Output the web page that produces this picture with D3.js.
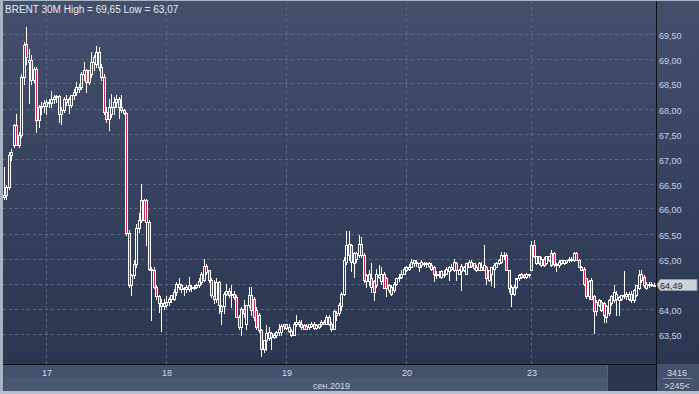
<!DOCTYPE html>
<html>
<head>
<meta charset="utf-8">
<script src="https://cdn.jsdelivr.net/npm/d3@7"></script>
<style>
  html, body { margin: 0; padding: 0; background: #2c3752; }
  svg { display: block; font-family: "Liberation Sans", Arial, sans-serif; }
</style>
</head>
<body>
<div id="chart"></div>
<script>
// 30M candles [open, high, low, close], one array per trading day
const day16 = [
  [66.25, 66.85, 66.2, 66.3], [66.3, 66.5, 66.22, 66.45], [66.45, 67.15, 66.4, 67.1], [67.1, 67.2, 66.98, 67.15],
  [67.3, 67.7, 67.25, 67.68], [67.68, 67.9, 67.28, 67.3], [67.3, 67.55, 67.25, 67.48], [67.48, 68.7, 67.45, 68.65],
  [68.65, 69.35, 68.5, 69.3], [69.32, 69.65, 68.9, 69.05], [68.95, 69.2, 68.12, 69.0], [69.0, 69.1, 68.5, 68.6],
  [68.6, 68.85, 68.55, 68.82], [68.82, 68.85, 67.55, 67.8], [67.8, 68.1, 67.66, 68.05], [68.05, 68.15, 67.9, 68.08],
  [68.08, 68.18, 67.95, 68.12]
];
const day17 = [
  [68.08, 68.18, 67.9, 68.15], [68.15, 68.2, 68.05, 68.12], [68.12, 68.37, 68.05, 68.2], [68.2, 68.3, 68.12, 68.25],
  [68.25, 68.3, 68.15, 68.27], [68.27, 68.3, 67.75, 67.9], [67.9, 68.05, 67.7, 67.98], [67.98, 68.25, 67.95, 68.22],
  [68.22, 68.3, 68.1, 68.16], [68.2, 68.25, 67.92, 68.1], [68.1, 68.3, 68.05, 68.28], [68.28, 68.4, 68.2, 68.35],
  [68.35, 68.55, 68.3, 68.45], [68.45, 68.5, 68.35, 68.4], [68.45, 68.75, 68.4, 68.72], [68.72, 68.95, 68.6, 68.8],
  [68.8, 68.82, 68.35, 68.55], [68.55, 68.8, 68.5, 68.78], [68.7, 69.15, 68.65, 68.95], [68.95, 69.1, 68.8, 69.05],
  [68.9, 69.26, 68.85, 69.15], [69.15, 69.25, 68.8, 68.85], [68.85, 68.9, 68.6, 68.65], [68.65, 68.7, 67.9, 67.95],
  [67.95, 68.05, 67.75, 67.82], [67.82, 68.22, 67.6, 68.05], [67.9, 68.32, 67.85, 68.05], [68.05, 68.25, 67.9, 68.15],
  [68.15, 68.3, 68.05, 68.2], [68.2, 68.25, 67.83, 68.05], [68.05, 68.3, 67.95, 68.0], [68.0, 68.02, 67.9, 67.93],
  [67.93, 67.96, 65.5, 65.53], [65.53, 65.6, 64.45, 64.5], [64.5, 64.72, 64.29, 64.68], [64.68, 65.0, 64.62, 64.9],
  [64.9, 65.7, 64.85, 65.62], [65.62, 65.92, 65.55, 65.8], [65.8, 66.52, 65.75, 66.19], [66.19, 66.22, 65.78, 65.8],
  [66.18, 66.2, 65.3, 65.75], [65.75, 65.8, 64.8, 64.82], [64.82, 64.85, 63.8, 64.78], [64.8, 64.84, 64.42, 64.46],
  [64.46, 64.5, 64.2, 64.26], [64.26, 64.3, 63.95, 64.12], [64.12, 64.2, 63.57, 64.08], [64.08, 64.2, 64.02, 64.12]
];
const day18 = [
  [64.1, 64.26, 64.05, 64.16], [64.16, 64.25, 64.1, 64.22], [64.2, 64.3, 64.15, 64.28], [64.2, 64.4, 64.18, 64.36],
  [64.35, 64.55, 64.3, 64.52], [64.45, 64.62, 64.4, 64.52], [64.5, 64.52, 64.35, 64.4], [64.4, 64.45, 64.3, 64.42],
  [64.4, 64.48, 64.36, 64.45], [64.4, 64.66, 64.38, 64.48], [64.42, 64.5, 64.38, 64.46], [64.42, 64.5, 64.4, 64.45],
  [64.45, 64.52, 64.42, 64.5], [64.48, 64.62, 64.45, 64.58], [64.55, 64.75, 64.52, 64.72], [64.6, 65.02, 64.58, 64.88],
  [64.88, 64.9, 64.7, 64.75], [64.78, 64.8, 64.55, 64.6], [64.6, 64.62, 64.25, 64.28], [64.26, 64.59, 64.12, 64.2],
  [64.2, 64.62, 64.15, 64.55], [64.55, 64.56, 63.92, 64.1], [63.96, 64.1, 63.72, 64.08], [64.08, 64.35, 63.92, 64.32],
  [64.32, 64.52, 64.28, 64.38], [64.38, 64.42, 64.25, 64.28], [64.28, 64.49, 64.05, 64.32], [64.32, 64.38, 64.2, 64.25],
  [64.25, 64.3, 63.85, 63.86], [63.86, 63.9, 63.62, 63.66], [63.66, 64.05, 63.49, 64.02], [64.02, 64.19, 63.85, 63.92],
  [63.7, 64.1, 63.62, 64.09], [64.09, 64.46, 64.05, 64.29], [64.29, 64.45, 63.9, 63.99], [64.22, 64.25, 63.8, 63.86],
  [64.0, 64.05, 63.6, 63.66], [63.89, 63.92, 63.55, 63.59], [63.59, 63.62, 63.07, 63.22], [63.22, 63.4, 63.16, 63.39],
  [63.39, 63.69, 63.19, 63.52], [63.42, 63.66, 63.38, 63.55], [63.52, 63.55, 63.22, 63.45], [63.45, 63.52, 63.42, 63.49],
  [63.49, 63.58, 63.45, 63.55], [63.55, 63.72, 63.5, 63.62], [63.55, 63.7, 63.5, 63.68], [63.68, 63.72, 63.6, 63.7]
];
const day19 = [
  [63.7, 63.72, 63.6, 63.63], [63.66, 63.7, 63.55, 63.56], [63.5, 63.6, 63.48, 63.58], [63.5, 63.76, 63.49, 63.72],
  [63.72, 63.89, 63.68, 63.76], [63.76, 63.8, 63.68, 63.72], [63.7, 63.78, 63.62, 63.66], [63.69, 63.72, 63.6, 63.62],
  [63.62, 63.7, 63.6, 63.68], [63.65, 63.72, 63.62, 63.7], [63.68, 63.74, 63.65, 63.72], [63.72, 63.75, 63.62, 63.64],
  [63.64, 63.7, 63.6, 63.69], [63.66, 63.72, 63.63, 63.7], [63.7, 63.78, 63.68, 63.75], [63.76, 63.8, 63.7, 63.72],
  [63.72, 63.9, 63.7, 63.86], [63.86, 63.9, 63.69, 63.72], [63.72, 63.76, 63.56, 63.62], [63.62, 64.0, 63.6, 63.96],
  [63.92, 63.96, 63.79, 63.9], [63.92, 64.12, 63.9, 64.09], [64.06, 64.35, 64.0, 64.32], [64.32, 65.05, 64.3, 64.99],
  [64.96, 65.56, 64.9, 65.29], [65.32, 65.57, 65.0, 65.09], [65.29, 65.32, 64.76, 64.96], [64.92, 65.15, 64.66, 65.12],
  [65.02, 65.15, 64.95, 65.12], [65.09, 65.49, 65.05, 65.32], [65.32, 65.46, 65.05, 65.09], [65.1, 65.12, 64.55, 64.59],
  [64.56, 64.7, 64.46, 64.69], [64.56, 64.79, 64.5, 64.72], [64.62, 64.92, 64.36, 64.46], [64.56, 64.6, 64.19, 64.36],
  [64.49, 64.82, 64.45, 64.72], [64.65, 64.89, 64.62, 64.69], [64.56, 64.86, 64.52, 64.72], [64.72, 64.75, 64.42, 64.42],
  [64.62, 64.65, 64.26, 64.42], [64.39, 64.52, 64.36, 64.49], [64.46, 64.5, 64.29, 64.32], [64.39, 64.55, 64.36, 64.52],
  [64.52, 64.64, 64.5, 64.62], [64.62, 64.7, 64.58, 64.66], [64.66, 64.79, 64.64, 64.72], [64.72, 64.85, 64.7, 64.82]
];
const day20 = [
  [64.79, 64.88, 64.76, 64.86], [64.82, 64.9, 64.78, 64.86], [64.86, 65.02, 64.84, 64.96], [64.92, 65.0, 64.88, 64.99],
  [64.96, 64.99, 64.88, 64.92], [64.92, 64.94, 64.76, 64.86], [64.89, 64.98, 64.86, 64.96], [64.9, 64.96, 64.87, 64.94],
  [64.92, 64.96, 64.86, 64.94], [64.94, 64.96, 64.84, 64.87], [64.89, 64.92, 64.8, 64.82], [64.86, 64.88, 64.56, 64.72],
  [64.69, 64.76, 64.62, 64.72], [64.69, 64.76, 64.66, 64.72], [64.66, 64.78, 64.64, 64.76], [64.69, 64.78, 64.66, 64.72],
  [64.72, 64.84, 64.7, 64.82], [64.76, 64.88, 64.59, 64.86], [64.82, 64.9, 64.78, 64.86], [64.79, 65.02, 64.76, 64.96],
  [64.92, 64.95, 64.59, 64.79], [64.72, 64.82, 64.7, 64.79], [64.76, 64.9, 64.39, 64.88], [64.79, 64.88, 64.76, 64.86],
  [64.72, 64.94, 64.7, 64.92], [64.86, 64.98, 64.84, 64.96], [64.96, 64.98, 64.86, 64.87], [64.92, 64.94, 64.82, 64.83],
  [64.79, 64.89, 64.76, 64.86], [64.79, 64.96, 64.78, 64.92], [64.79, 64.96, 64.78, 64.86], [64.79, 65.29, 64.78, 64.89],
  [64.86, 64.88, 64.52, 64.62], [64.59, 64.8, 64.57, 64.79], [64.72, 64.86, 64.49, 64.84], [64.82, 64.92, 64.46, 64.89],
  [64.86, 64.95, 64.84, 64.94], [64.92, 65.02, 64.9, 64.99], [64.96, 65.16, 64.94, 65.09], [65.06, 65.16, 65.02, 65.09],
  [65.09, 65.12, 64.78, 64.79], [64.79, 64.8, 64.36, 64.42], [64.46, 64.48, 64.06, 64.32], [64.32, 64.48, 64.3, 64.46],
  [64.46, 64.6, 64.44, 64.62], [64.62, 64.7, 64.6, 64.69], [64.66, 64.74, 64.64, 64.72], [64.69, 64.72, 64.62, 64.66],
  [64.66, 64.73, 64.64, 64.7], [64.68, 64.72, 64.65, 64.7]
];
const day23 = [
  [64.79, 65.38, 64.78, 65.29], [65.29, 65.39, 65.04, 65.06], [64.92, 65.08, 64.9, 65.06], [65.06, 65.08, 64.9, 64.92],
  [64.89, 65.04, 64.87, 65.02], [65.02, 65.05, 64.88, 64.89], [64.92, 65.08, 64.9, 65.06], [64.99, 65.08, 64.97, 65.06],
  [65.12, 65.19, 64.88, 64.89], [65.12, 65.14, 64.88, 64.9], [64.89, 64.92, 64.76, 64.9], [64.89, 64.98, 64.86, 64.96],
  [64.92, 65.0, 64.9, 64.99], [64.93, 65.0, 64.9, 64.99], [64.95, 65.0, 64.93, 64.99], [64.99, 65.04, 64.95, 65.02],
  [64.99, 65.04, 64.97, 65.02], [64.99, 65.14, 64.97, 65.12], [65.12, 65.14, 64.98, 64.99], [64.99, 65.01, 64.85, 64.86],
  [64.86, 64.88, 64.78, 64.79], [64.82, 64.84, 64.5, 64.52], [64.62, 64.64, 64.24, 64.26], [64.26, 64.6, 64.22, 64.56],
  [64.59, 64.62, 64.2, 64.22], [64.26, 64.28, 63.52, 63.96], [63.96, 64.18, 63.9, 64.16], [64.09, 64.22, 64.06, 64.19],
  [64.16, 64.18, 63.98, 64.0], [64.12, 64.14, 63.76, 63.89], [63.86, 64.1, 63.76, 64.06], [63.92, 64.2, 63.9, 64.19],
  [64.12, 64.28, 64.1, 64.26], [64.19, 64.49, 64.15, 64.36], [64.22, 64.38, 63.89, 64.32], [64.19, 64.26, 63.9, 64.25],
  [64.22, 64.3, 64.18, 64.29], [64.26, 64.77, 64.24, 64.3], [64.26, 64.36, 64.22, 64.32], [64.32, 64.36, 64.18, 64.22],
  [64.32, 64.38, 64.16, 64.19], [64.19, 64.4, 64.16, 64.39], [64.29, 64.49, 64.26, 64.49], [64.42, 64.79, 64.4, 64.69],
  [64.72, 64.8, 64.55, 64.59], [64.66, 64.68, 64.45, 64.49], [64.42, 64.55, 64.4, 64.52], [64.48, 64.54, 64.45, 64.52],
  [64.49, 64.54, 64.47, 64.52], [64.49, 64.53, 64.47, 64.49]
];

const days = [day16, day17, day18, day19, day20, day23];
const dayLabels = ["", "17", "18", "19", "20", "23"];
const priceTicks = [63.5, 64, 64.5, 65, 65.5, 66, 66.5, 67, 67.5, 68, 68.5, 69, 69.5];
const title = "BRENT 30M High = 69,65 Low = 63,07";
const monthLabel = "сен.2019";
const barsTotal = "3416";
const barsVisible = ">245<";

const W = 699, H = 394;
const plotL = 3, plotR = 656, plotB = 364;

const candles = days.flat().map((d, i) => ({ i, o: d[0], h: d[1], l: d[2], c: d[3] }));
const dayStarts = [];
days.reduce((n, d) => { dayStarts.push(n); return n + d.length; }, 0);

const svg = d3.select("#chart").append("svg")
    .attr("width", W)
    .attr("height", H);

const defs = svg.append("defs");
const grad = defs.append("linearGradient")
    .attr("id", "bg")
    .attr("gradientUnits", "userSpaceOnUse")
    .attr("x1", 0).attr("y1", 0).attr("x2", 0).attr("y2", plotB);
grad.append("stop").attr("offset", 0).attr("stop-color", "#434f6b");
grad.append("stop").attr("offset", 1).attr("stop-color", "#2b3651");

// backgrounds
svg.append("rect").attr("x", 0).attr("y", 0).attr("width", W).attr("height", plotB).attr("fill", "url(#bg)");
svg.append("rect").attr("x", 0).attr("y", plotB).attr("width", W).attr("height", 27).attr("fill", "#45526c");
svg.append("rect").attr("x", 5).attr("y", 378).attr("width", plotR - 5).attr("height", 13).attr("fill", "#4b5874");
svg.append("rect").attr("x", 607).attr("y", plotB + 1).attr("width", plotR - 607).attr("height", 26).attr("fill", "#2c3750");
svg.append("line").attr("x1", 607.5).attr("x2", 607.5).attr("y1", plotB + 1).attr("y2", 391).attr("stroke", "#55627c");

// frame
svg.append("rect").attr("x", 0).attr("y", 0).attr("width", 3).attr("height", H).attr("fill", "#a9b4c3");
svg.append("rect").attr("x", 0).attr("y", 0).attr("width", W).attr("height", 1).attr("fill", "#a9b4c3");
svg.append("rect").attr("x", 0).attr("y", 391).attr("width", W).attr("height", 3).attr("fill", "#b6c0cc");

const x = d3.scaleBand()
    .domain(d3.range(candles.length))
    .range([plotL, plotL + candles.length * 2.5]);

const y = d3.scaleLinear()
    .domain([63.5, 69.5])
    .range([334.5, 34.5]);

const cx = i => Math.floor(x(i) + x.bandwidth() / 2) + 0.5;
const py = v => Math.round(y(v)) + 0.5;

// grid
svg.append("g")
    .selectAll("line")
    .data(priceTicks)
    .enter().append("line")
    .attr("x1", plotL)
    .attr("x2", plotR)
    .attr("y1", d => py(d) - 1)
    .attr("y2", d => py(d) - 1)
    .attr("stroke", "#5a6783")
    .attr("stroke-dasharray", "3,3");

const dayLines = dayStarts.slice(1);
svg.append("g")
    .selectAll("line")
    .data(dayLines)
    .enter().append("line")
    .attr("x1", d => Math.round(x(d)) + 0.5)
    .attr("x2", d => Math.round(x(d)) + 0.5)
    .attr("y1", 1)
    .attr("y2", plotB)
    .attr("stroke", "#5a6783")
    .attr("stroke-dasharray", "3,3");

// candles
const cg = svg.append("g");
cg.selectAll("line.hi")
    .data(candles)
    .enter().append("line")
    .attr("x1", d => cx(d.i)).attr("x2", d => cx(d.i))
    .attr("y1", d => py(d.h) - 0.5)
    .attr("y2", d => py(Math.max(d.o, d.c)))
    .attr("stroke", "#ffffff");
cg.selectAll("line.lo")
    .data(candles)
    .enter().append("line")
    .attr("x1", d => cx(d.i)).attr("x2", d => cx(d.i))
    .attr("y1", d => py(Math.min(d.o, d.c)))
    .attr("y2", d => py(d.l) + 0.5)
    .attr("stroke", "#ffffff");
cg.selectAll("rect")
    .data(candles)
    .enter().append("rect")
    .attr("x", d => cx(d.i) - 1)
    .attr("y", d => py(Math.max(d.o, d.c)))
    .attr("width", 2)
    .attr("height", d => Math.max(1, py(Math.min(d.o, d.c)) - py(Math.max(d.o, d.c))))
    .attr("fill", d => d.c < d.o ? "#c42b4e" : "none")
    .attr("stroke", "#ffffff")
    .attr("stroke-width", 1);

// axis lines
svg.append("line").attr("x1", plotR + 0.5).attr("x2", plotR + 0.5).attr("y1", 1).attr("y2", 391).attr("stroke", "#0b0f18");
svg.append("line").attr("x1", plotL).attr("x2", plotR).attr("y1", plotB + 0.5).attr("y2", plotB + 0.5).attr("stroke", "#0b0f18");

// price labels
svg.append("g")
    .selectAll("text")
    .data(priceTicks)
    .enter().append("text")
    .attr("x", 659)
    .attr("y", d => py(d) + 3)
    .attr("fill", "#c9d2e1")
    .attr("font-size", "9px")
    .text(d => d3.format(".2f")(d).replace(".", ","));

// day labels
svg.append("g")
    .selectAll("text")
    .data(dayStarts.map((s, k) => ({ s, t: dayLabels[k] })).filter(d => d.t))
    .enter().append("text")
    .attr("x", d => Math.round(x(d.s)) + 1)
    .attr("y", 376)
    .attr("text-anchor", "middle")
    .attr("fill", "#d3dae6")
    .attr("font-size", "9px")
    .text(d => d.t);

svg.append("text")
    .attr("x", (plotL + plotR) / 2 + 2)
    .attr("y", 389)
    .attr("text-anchor", "middle")
    .attr("fill", "#d3dae6")
    .attr("font-size", "9px")
    .text(monthLabel);

// title
svg.append("text")
    .attr("x", 5)
    .attr("y", 13)
    .attr("fill", "#e6ebf2")
    .attr("font-size", "10px")
    .text(title);

// bars counter
svg.append("text").attr("x", 677).attr("y", 376).attr("text-anchor", "middle")
    .attr("fill", "#d3dae6").attr("font-size", "9px").text(barsTotal);
svg.append("line").attr("x1", 663).attr("x2", 692).attr("y1", 378.5).attr("y2", 378.5).attr("stroke", "#7d89a0");
svg.append("text").attr("x", 677).attr("y", 389).attr("text-anchor", "middle")
    .attr("fill", "#d3dae6").attr("font-size", "9px").text(barsVisible);

// last price marker
const last = candles[candles.length - 1].c;
const ly = py(last) - 0.5;
svg.append("path")
    .attr("d", `M${plotR + 1},${ly} L${plotR + 4},${ly - 5.5} L${W - 2},${ly - 5.5} L${W - 2},${ly + 5.5} L${plotR + 4},${ly + 5.5} Z`)
    .attr("fill", "#cdd1d8")
    .attr("stroke", "#8f98a8");
svg.append("text")
    .attr("x", 660)
    .attr("y", ly + 3.5)
    .attr("fill", "#1d2636")
    .attr("font-size", "9px")
    .text(d3.format(".2f")(last).replace(".", ","));
</script>
</body>
</html>
